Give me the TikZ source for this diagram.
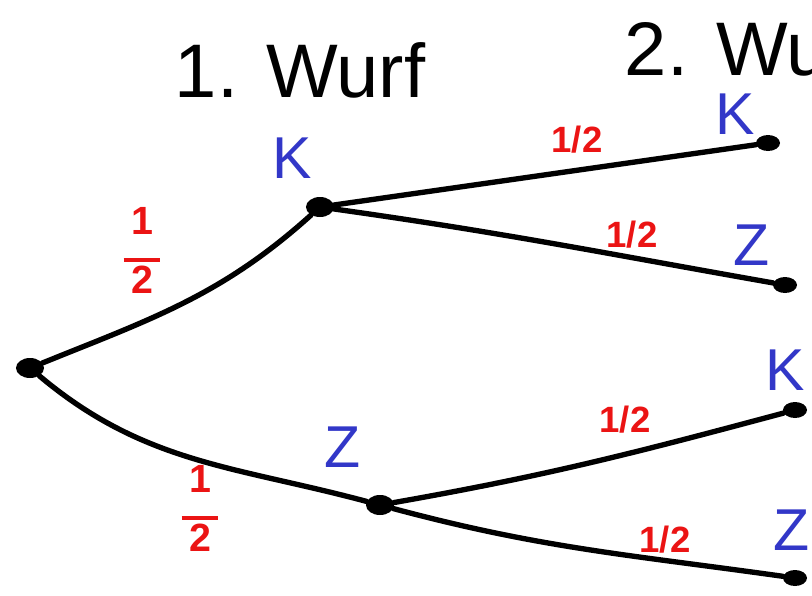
\documentclass[tikz,border=0pt]{standalone}
\usepackage{fontspec}
\setmainfont{Liberation Sans}
\usetikzlibrary{positioning,shapes.geometric}

\definecolor{penblue}{RGB}{50,55,200}
\definecolor{penred}{RGB}{235,20,20}

\begin{document}
\begin{tikzpicture}[
        x=0.025cm, y=-0.025cm,
        dot/.style={fill=black, ellipse, minimum width=7mm, minimum height=5mm, inner sep=0pt},
        leaf/.style={dot, minimum width=6mm, minimum height=4mm},
        branch/.style={line width=3.8pt, line cap=round},
        outcome/.style={text=penblue, font=\fontsize{42}{42}\selectfont},
        prob/.style={text=penred, font=\bfseries\fontsize{26}{26}\selectfont},
        frac/.style={text=penred, font=\bfseries\fontsize{28}{24}\selectfont, align=center},
        title/.style={font=\fontsize{54}{54}\selectfont}
    ]
        \useasboundingbox (0,0) rectangle (812,595);
        \clip (0,0) rectangle (812,595);

        \node[title] (w1) at (300,70) {1. Wurf};
        \node[title, anchor=west] (w2) at (620,48) {2. Wurf};

        \node[dot] (root) at (30,368) {};
        \node[dot] (k)    at (320,207) {};
        \node[dot] (z)    at (380,505) {};
        \node[leaf] (kk) at (768,143) {};
        \node[leaf] (kz) at (785,285) {};
        \node[leaf] (zk) at (795,410) {};
        \node[leaf] (zz) at (795,578) {};

        \node[outcome] (lk)  at (292,158) {K};
        \node[outcome] (lz)  at (343,447) {Z};
        \node[outcome] (lkk) at (735,114) {K};
        \node[outcome] (lkz) at (752,245) {Z};
        \node[outcome] (lzk) at (785,370) {K};
        \node[outcome] (lzz) at (792,530) {Z};

        \draw[branch] (root) to[out=22, in=222] (k);
        \draw[branch] (root) to[out=-40, in=165] (z);
        \draw[branch] (k) -- (kk);
        \draw[branch] (k) to[out=-8, in=170] (kz);
        \draw[branch] (z) to[out=10, in=195] (zk);
        \draw[branch] (z) to[out=-15, in=172] (zz);

        \node[frac] (pk) at (142,250) {1\\[-4pt]\rule{26pt}{3pt}\\[-2pt]2};
        \node[frac] (pz) at (200,508) {1\\[-4pt]\rule{26pt}{3pt}\\[-2pt]2};
        \node[prob] (pkk) at (577,140) {1/2};
        \node[prob] (pkz) at (632,235) {1/2};
        \node[prob] (pzk) at (625,420) {1/2};
        \node[prob] (pzz) at (665,540) {1/2};
    \end{tikzpicture}
\end{document}
